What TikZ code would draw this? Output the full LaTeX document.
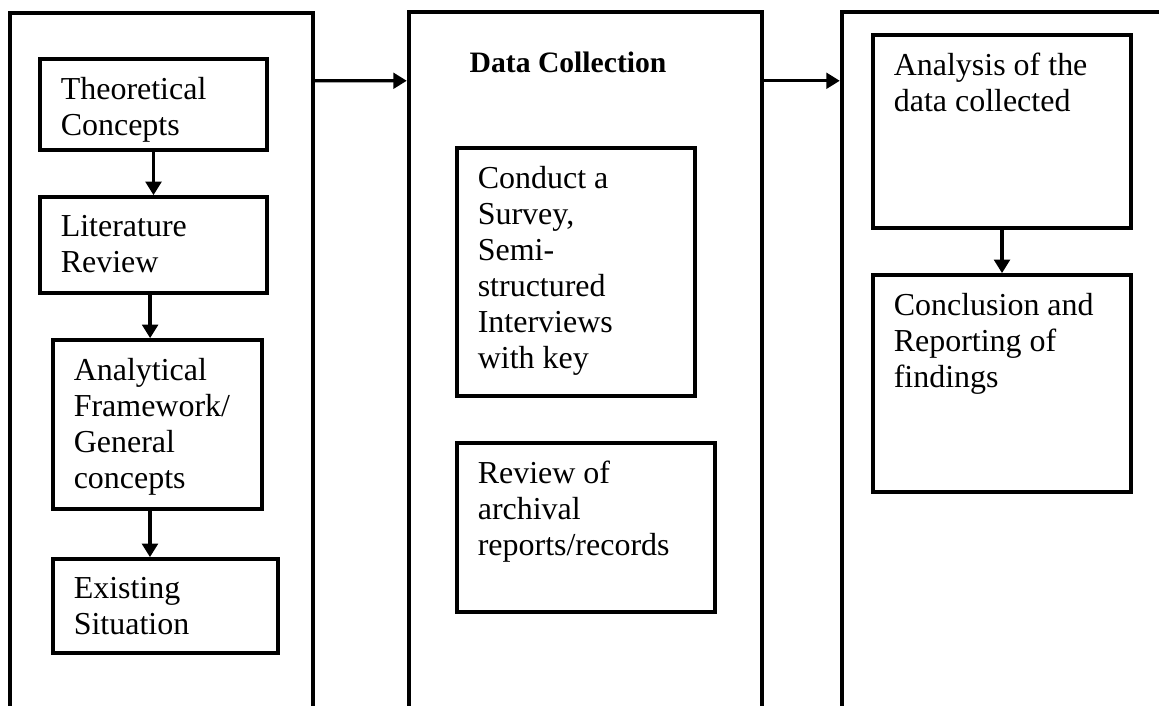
\documentclass[tikz,border=0pt]{standalone}
\usepackage{fontspec}
\setmainfont{Liberation Serif}
\usetikzlibrary{arrows.meta,fit,positioning}

\tikzset{
    phase/.style={
           rectangle,
           draw=black, line width=1.7pt,
           inner sep=0pt,
           },
    stage/.style={
           rectangle,
           draw=black, line width=1.4pt,
           inner sep=0pt,
           },
    txt/.style={
           anchor=north west, align=left, inner sep=0pt,
           xshift=8.5pt, yshift=-7.4pt,
           font=\fontsize{12.3}{13.85}\selectfont,
           },
    head/.style={
           anchor=north west, inner sep=0pt,
           xshift=24pt, yshift=-16.1pt,
           font=\fontsize{11.4}{13.85}\selectfont\bfseries,
           },
    flow/.style={
           -{Triangle[width=6pt,length=5.2pt]},
           line width=1.3pt,
           },
}

\begin{document}
\begin{tikzpicture}[x=0.013518cm,y=-0.013518cm]

       \useasboundingbox (0,0) rectangle (1159,706);
       \clip (0,0) rectangle (1159,706);

       % the three phases
       \node[phase, fit={(10,13) (313,760)}] (PREPARE) {};
       \node[phase, fit={(409,12) (762,760)},
             label={[head]north west:Data Collection}] (COLLECT) {};
       \node[phase, fit={(842,12) (1200,760)}] (ANALYSE) {};

       % first phase
       \node[stage, fit={(40,59) (267,150)},
             label={[txt]north west:{Theoretical\\Concepts}}] (THEORY) {};
       \node[stage, fit={(40,197) (267,293)},
             label={[txt]north west:{Literature\\Review}}] (LITERATURE) {};
       \node[stage, fit={(53,340) (262,509)},
             label={[txt]north west:{Analytical\\Framework/\\General\\concepts}}] (FRAMEWORK) {};
       \node[stage, fit={(53,559) (278,653)},
             label={[txt]north west:{Existing\\Situation}}] (EXISTING) {};

       % second phase
       \node[stage, fit={(457,148) (695,396)},
             label={[txt]north west:{Conduct a\\Survey,\\Semi-\\structured\\Interviews\\with key}}] (SURVEY) {};
       \node[stage, fit={(457,443) (715,612)},
             label={[txt]north west:{Review of\\archival\\reports/records}}] (ARCHIVE) {};

       % third phase
       \node[stage, fit={(873,35) (1131,228)},
             label={[txt]north west:{Analysis of the\\data collected}}] (ANALYSIS) {};
       \node[stage, fit={(873,275) (1131,492)},
             label={[txt]north west:{Conclusion and\\Reporting of\\findings}}] (CONCLUSION) {};

       \draw[flow] (THEORY.south) -- (THEORY.south |- LITERATURE.north) ;
       \draw[flow] ([xshift=-1.3pt]LITERATURE.south) -- ([xshift=-1.3pt]LITERATURE.south |- FRAMEWORK.north) ;
       \draw[flow] ([xshift=-2.9pt]FRAMEWORK.south) -- ([xshift=-2.9pt]FRAMEWORK.south |- EXISTING.north) ;
       \draw[flow] (ANALYSIS.south) -- (CONCLUSION.north) ;

       \draw[flow] ([shift={(0,70)}]PREPARE.north east) -- ([shift={(0,71)}]COLLECT.north west) ;
       \draw[flow] ([shift={(0,71)}]COLLECT.north east) -- ([shift={(0,71)}]ANALYSE.north west) ;

\end{tikzpicture}
\end{document}
